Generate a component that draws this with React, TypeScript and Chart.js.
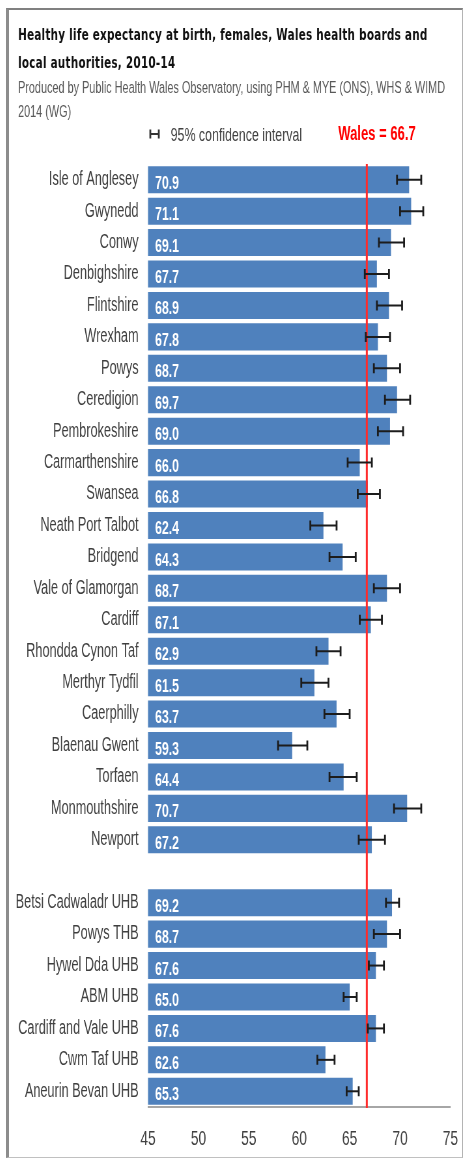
import React, { useEffect, useRef } from "react";
import { Chart, registerables } from "chart.js";

Chart.register(...registerables);

// ---------- data ----------
const categories = [
  "Isle of Anglesey", "Gwynedd", "Conwy", "Denbighshire", "Flintshire", "Wrexham",
  "Powys", "Ceredigion", "Pembrokeshire", "Carmarthenshire", "Swansea",
  "Neath Port Talbot", "Bridgend", "Vale of Glamorgan", "Cardiff",
  "Rhondda Cynon Taf", "Merthyr Tydfil", "Caerphilly", "Blaenau Gwent",
  "Torfaen", "Monmouthshire", "Newport", "",
  "Betsi Cadwaladr UHB", "Powys THB", "Hywel Dda UHB", "ABM UHB",
  "Cardiff and Vale UHB", "Cwm Taf UHB", "Aneurin Bevan UHB",
];
const values = [
  70.9, 71.1, 69.1, 67.7, 68.9, 67.8, 68.7, 69.7, 69.0, 66.0, 66.8, 62.4, 64.3,
  68.7, 67.1, 62.9, 61.5, 63.7, 59.3, 64.4, 70.7, 67.2, null,
  69.2, 68.7, 67.6, 65.0, 67.6, 62.6, 65.3,
];
const ciLower = [
  69.7, 70.0, 67.9, 66.5, 67.7, 66.6, 67.4, 68.5, 67.8, 64.8, 65.8, 61.1, 63.0,
  67.4, 66.0, 61.7, 60.2, 62.5, 57.9, 63.0, 69.4, 65.9, null,
  68.6, 67.4, 66.9, 64.4, 66.8, 61.8, 64.7,
];
const ciUpper = [
  72.1, 72.3, 70.4, 68.9, 70.2, 69.0, 70.0, 71.0, 70.3, 67.2, 68.0, 63.7, 65.6,
  70.0, 68.2, 64.1, 62.9, 65.0, 60.8, 65.7, 72.1, 68.5, null,
  69.9, 70.0, 68.4, 65.7, 68.4, 63.5, 65.9,
];
const xTickValues = [45, 50, 55, 60, 65, 70, 75];
const walesValue = 66.7;
const titleLines = [
  "Healthy life expectancy at birth, females, Wales health boards and",
  "local authorities, 2010-14",
];
const subtitleLines = [
  "Produced by Public Health Wales Observatory, using PHM & MYE (ONS), WHS & WIMD",
  "2014 (WG)",
];
const legendLabel = "95% confidence interval";
const walesLabel = "Wales = 66.7";

// ---------- layout (logical canvas is squeezed horizontally) ----------
const SX = 0.6514;
const CW = 700;
const CH = 1150;
const FONT = "'Liberation Sans', Arial, sans-serif";
const TITLE_FONT = "'DejaVu Sans', Verdana, sans-serif";

const overlayPlugin = {
  id: "overlay",
  afterDatasetsDraw(chart: any) {
    const { ctx, chartArea, scales } = chart;
    const xs = scales.x;
    const ys = scales.y;
    ctx.save();
    // Wales reference line
    const wx = xs.getPixelForValue(walesValue);
    ctx.strokeStyle = "#ff2b2b";
    ctx.lineWidth = 3;
    ctx.beginPath();
    ctx.moveTo(wx, chartArea.top);
    ctx.lineTo(wx, chartArea.bottom + 1);
    ctx.stroke();

    // error bars + value labels
    values.forEach((v, i) => {
      if (v == null) return;
      const cy = ys.getPixelForValue(i);
      const x1 = xs.getPixelForValue(ciLower[i] as number);
      const x2 = xs.getPixelForValue(ciUpper[i] as number);
      ctx.strokeStyle = "#1c1c1c";
      ctx.lineWidth = 2;
      ctx.beginPath();
      ctx.moveTo(x1, cy);
      ctx.lineTo(x2, cy);
      ctx.stroke();
      ctx.lineWidth = 2.8;
      ctx.beginPath();
      ctx.moveTo(x1, cy - 5);
      ctx.lineTo(x1, cy + 5);
      ctx.moveTo(x2, cy - 5);
      ctx.lineTo(x2, cy + 5);
      ctx.stroke();

      ctx.fillStyle = "#ffffff";
      ctx.font = `bold 19px ${FONT}`;
      ctx.textAlign = "left";
      ctx.textBaseline = "alphabetic";
      ctx.fillText((v as number).toFixed(1), chartArea.left + 10.7, cy + 9);
    });
    ctx.restore();
  },
  afterDraw(chart: any) {
    const { ctx } = chart;
    ctx.save();
    ctx.textAlign = "left";
    ctx.textBaseline = "alphabetic";
    // title
    ctx.fillStyle = "#111111";
    ctx.font = `bold 16px ${TITLE_FONT}`;
    (ctx as any).letterSpacing = "0.37px";
    ctx.fillText(titleLines[0], 16.9, 31.5);
    ctx.fillText(titleLines[1], 16.9, 60);
    (ctx as any).letterSpacing = "0px";
    // subtitle
    ctx.fillStyle = "#595959";
    ctx.font = `16.7px ${FONT}`;
    ctx.fillText(subtitleLines[0], 16.9, 85.3);
    ctx.fillText(subtitleLines[1], 16.9, 108.7);
    // legend icon
    ctx.strokeStyle = "#333333";
    ctx.lineWidth = 2;
    ctx.beginPath();
    ctx.moveTo(220, 126);
    ctx.lineTo(233, 126);
    ctx.stroke();
    ctx.lineWidth = 2.8;
    ctx.beginPath();
    ctx.moveTo(220, 121.5);
    ctx.lineTo(220, 130.5);
    ctx.moveTo(233, 121.5);
    ctx.lineTo(233, 130.5);
    ctx.stroke();
    // legend text
    ctx.fillStyle = "#404040";
    ctx.font = `19px ${FONT}`;
    ctx.fillText(legendLabel, 251.3, 132.5);
    // Wales label
    ctx.fillStyle = "#ff0000";
    ctx.font = `bold 20px ${FONT}`;
    ctx.fillText(walesLabel, 508.6, 131.5);
    ctx.restore();
  },
};

export default function App() {
  const canvasRef = useRef<HTMLCanvasElement | null>(null);

  useEffect(() => {
    const canvas = canvasRef.current;
    if (!canvas) return;
    const chart = new Chart(canvas, {
      type: "bar",
      data: {
        labels: categories,
        datasets: [
          {
            data: values as any,
            backgroundColor: "#4f81bd",
            borderWidth: 0,
            barPercentage: 0.86,
            categoryPercentage: 1,
          },
        ],
      },
      options: {
        indexAxis: "y",
        animation: false,
        responsive: false,
        devicePixelRatio: 1,
        layout: { padding: { top: 156, bottom: 0, left: 0, right: 19.2 } },
        plugins: {
          legend: { display: false },
          tooltip: { enabled: false },
          title: { display: false },
        },
        scales: {
          x: {
            type: "linear",
            min: 45,
            max: 75,
            afterBuildTicks: (scale: any) => {
              scale.ticks = xTickValues.map((v) => ({ value: v }));
            },
            afterFit: (scale: any) => {
              scale.height = 51;
              scale.paddingLeft = 0;
              scale.paddingRight = 0;
            },
            grid: { display: false, drawTicks: false },
            border: { display: true, color: "#a6a6a6", width: 2 },
            ticks: {
              font: { family: FONT, size: 21 },
              color: "#404040",
              padding: 19.4,
              maxRotation: 0,
              autoSkip: false,
            },
          },
          y: {
            type: "category",
            afterFit: (scale: any) => {
              scale.width = 216.5;
              scale.paddingTop = 0;
              scale.paddingBottom = 0;
            },
            grid: { display: false, drawTicks: false },
            border: { display: false },
            ticks: {
              autoSkip: false,
              font: { family: FONT, size: 19.5 },
              color: "#3f3f3f",
              padding: 14.6,
            },
          },
        },
      } as any,
      plugins: [overlayPlugin],
    });
    return () => chart.destroy();
  }, []);

  return (
    <div
      style={{
        position: "absolute",
        left: 0,
        top: 0,
        width: 465,
        height: 1158,
        overflow: "hidden",
        background: "#ffffff",
      }}
    >
      <div
        style={{
          position: "absolute",
          left: 7,
          top: 8,
          width: CW,
          height: CH,
          transform: `scaleX(${SX})`,
          transformOrigin: "0 0",
        }}
      >
        <canvas ref={canvasRef} width={CW} height={CH} style={{ display: "block" }} />
      </div>
      <div
        style={{
          position: "absolute",
          left: 6,
          top: 8,
          width: 457,
          height: 1150,
          boxSizing: "border-box",
          borderLeft: "3px solid #8c8c8c",
          borderTop: "2px solid #808080",
          borderRight: "1px solid #b4b4b4",
          borderBottom: "1px solid #c0c0c0",
          pointerEvents: "none",
        }}
      />
    </div>
  );
}
